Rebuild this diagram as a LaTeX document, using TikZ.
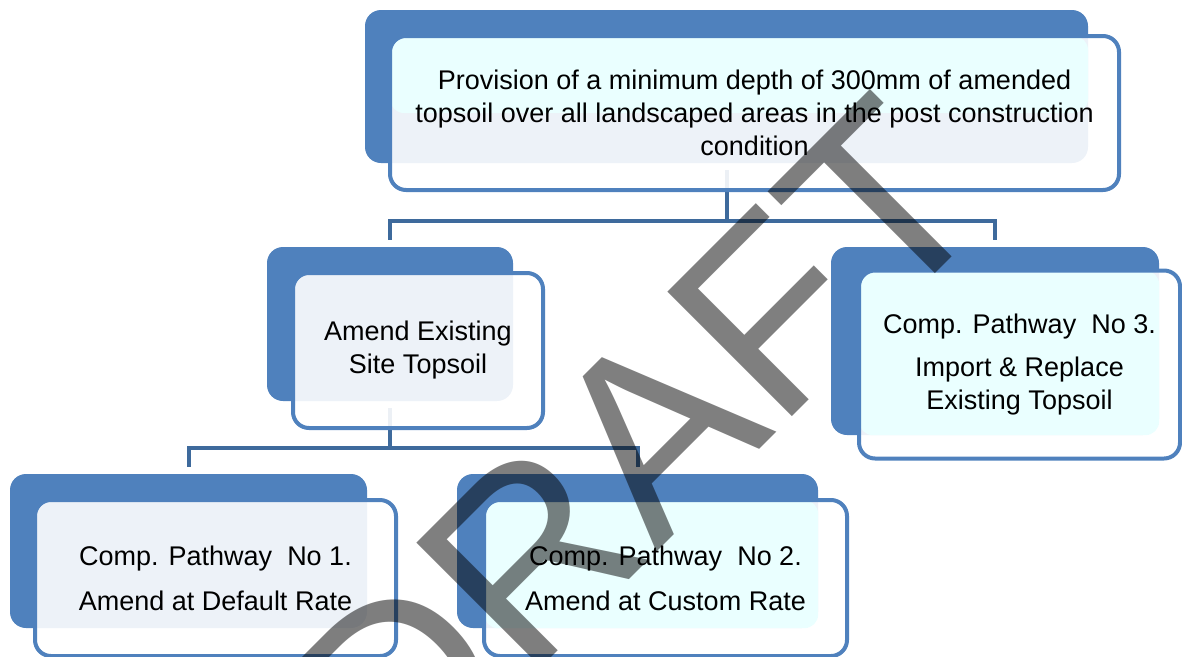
\documentclass[tikz,border=0pt]{standalone}
\usepackage{fontspec}
\setmainfont{Liberation Sans}
\usepackage{xcolor}

\definecolor{boxblue}{RGB}{79,129,189}
\definecolor{linkblue}{RGB}{62,106,156}
\definecolor{tintcyan}{RGB}{234,255,255}
\newcommand{\boxfont}{\fontsize{27}{33}\selectfont}

\begin{document}
\begin{tikzpicture}[x=1pt, y=-1pt,
    backbox/.style = {fill=boxblue, rounded corners=16pt, inner sep=0pt},
    frontbox/.style = {draw=boxblue, line width=4pt, fill=white, fill opacity=0.9,
        text opacity=1, rounded corners=16pt, inner sep=0pt, align=center, font=\boxfont},
    cyantint/.style = {path picture={\fill[tintcyan, fill opacity=1, rounded corners=14pt]
        (path picture bounding box.north west) rectangle (#1);}},
    link/.style = {draw=linkblue, line width=4pt},
    watermark/.style = {text=black, text opacity=0.5, inner sep=0pt,
        font=\fontsize{256}{256}\selectfont}]
    \useasboundingbox (0,0) rectangle (1182,656);
    \clip (0,0) rectangle (1182,656);

    % Back boxes
    \node[backbox, minimum width=723, minimum height=153] (topback) at (726.5,86.5) {};
    \node[backbox, minimum width=246, minimum height=154] (amendback) at (390,324) {};
    \node[backbox, minimum width=328, minimum height=188] (pw3back) at (995,341) {};
    \node[backbox, minimum width=357, minimum height=154] (pw1back) at (188.5,551) {};
    \node[backbox, minimum width=361, minimum height=154] (pw2back) at (637.5,551) {};
    \coordinate (topsplit) at (1088,113);

    % Connectors
    \coordinate (fork1) at (726.5,220.5);
    \coordinate (fork2) at (390,448);
    \draw[link] ([yshift=-7pt]topback.south) -- (fork1);
    \draw[link] ([yshift=7pt]amendback.north) |- (fork1) -| ([yshift=7pt]pw3back.north);
    \draw[link] ([yshift=-7pt]amendback.south) -- (fork2);
    \draw[link] ([yshift=7pt]pw1back.north) |- (fork2) -| ([yshift=7pt]pw2back.north);

    % Front boxes with text
    \node[frontbox, cyantint=topsplit, minimum width=729, minimum height=154] (top) at (754.5,113)
        {Provision of a minimum depth of 300mm of amended\\
         topsoil over all landscaped areas in the post construction\\
         condition};
    \node[frontbox, minimum width=250, minimum height=155] (amend) at (418,350.5)
        {Amend Existing\\ Site Topsoil};
    \node[frontbox, cyantint=pw3back.south east, minimum width=321, minimum height=188] (pw3) at (1019.5,364.5)
        {Comp. Pathway\ \ No 3.\\[10pt] Import \& Replace\\ Existing Topsoil};
    \node[frontbox, minimum width=361, minimum height=156] (pw1) at (215.5,578)
        {Comp. Pathway\ \ No 1.\\[12pt] Amend at Default Rate};
    \node[frontbox, cyantint=pw2back.south east, minimum width=363, minimum height=156] (pw2) at (665.5,578)
        {Comp. Pathway\ \ No 2.\\[12pt] Amend at Custom Rate};

    % Watermark
    \node[watermark, rotate=45, anchor=base] (draft) at (697,512) {DRAFT};
\end{tikzpicture}
\end{document}
